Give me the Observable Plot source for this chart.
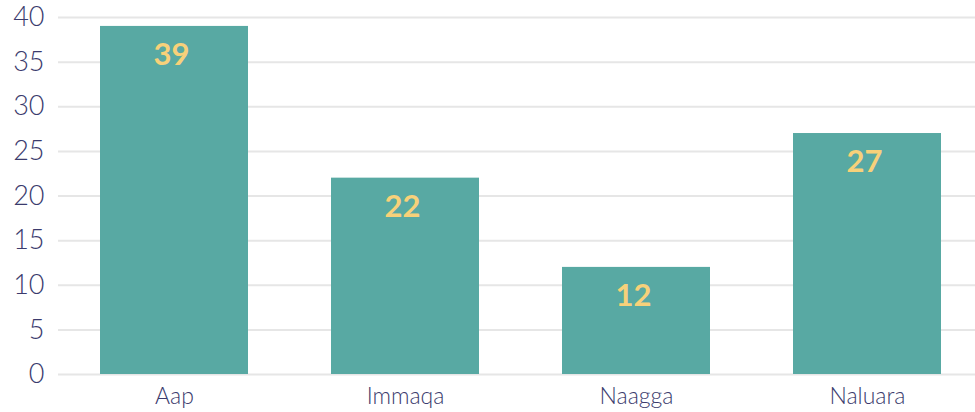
<!DOCTYPE html>
<html>
<head>
<meta charset="utf-8">
<script src="https://cdn.jsdelivr.net/npm/d3@7"></script>
<script src="https://cdn.jsdelivr.net/npm/@observablehq/plot@0.6"></script>
<style>
  body { margin: 0; background: #fff; }
  #chart svg { display: block; }
</style>
</head>
<body>
<div id="chart"></div>
<script>
const categories = ["Aap", "Immaqa", "Naagga", "Naluara"];
const values = [39, 22, 12, 27];
const yTicks = [0, 5, 10, 15, 20, 25, 30, 35, 40];

const data = categories.map((c, i) => ({category: c, value: values[i]}));

const chart = Plot.plot({
  width: 975,
  height: 412,
  marginLeft: 58,
  marginRight: 0,
  marginTop: 17,
  marginBottom: 38,
  style: {fontFamily: "Lato, 'Open Sans', sans-serif", background: "#fff"},
  x: {domain: categories, paddingInner: 0.36, paddingOuter: 0.163, align: 0.551, label: null},
  y: {domain: [0, 40], label: null},
  marks: [
    Plot.ruleY(yTicks, {stroke: "#e6e6e6", strokeWidth: 2}),
    Plot.barY(data, {x: "category", y: "value", fill: "#58a9a3"}),
    Plot.text(data, {x: "category", y: "value", text: d => String(d.value), dy: 29, dx: -3, fill: "#f7d17a", fontSize: 31, fontWeight: "bold"}),
    Plot.axisY(yTicks, {tickSize: 0, tickPadding: 14, fontSize: 27, fontWeight: 300, fill: "#3b3b6d", label: null}),
    Plot.axisX({tickSize: 0, tickPadding: 13, fontSize: 23, fontWeight: 300, fill: "#3b3b6d", label: null})
  ]
});
document.getElementById("chart").appendChild(chart);
</script>
</body>
</html>
